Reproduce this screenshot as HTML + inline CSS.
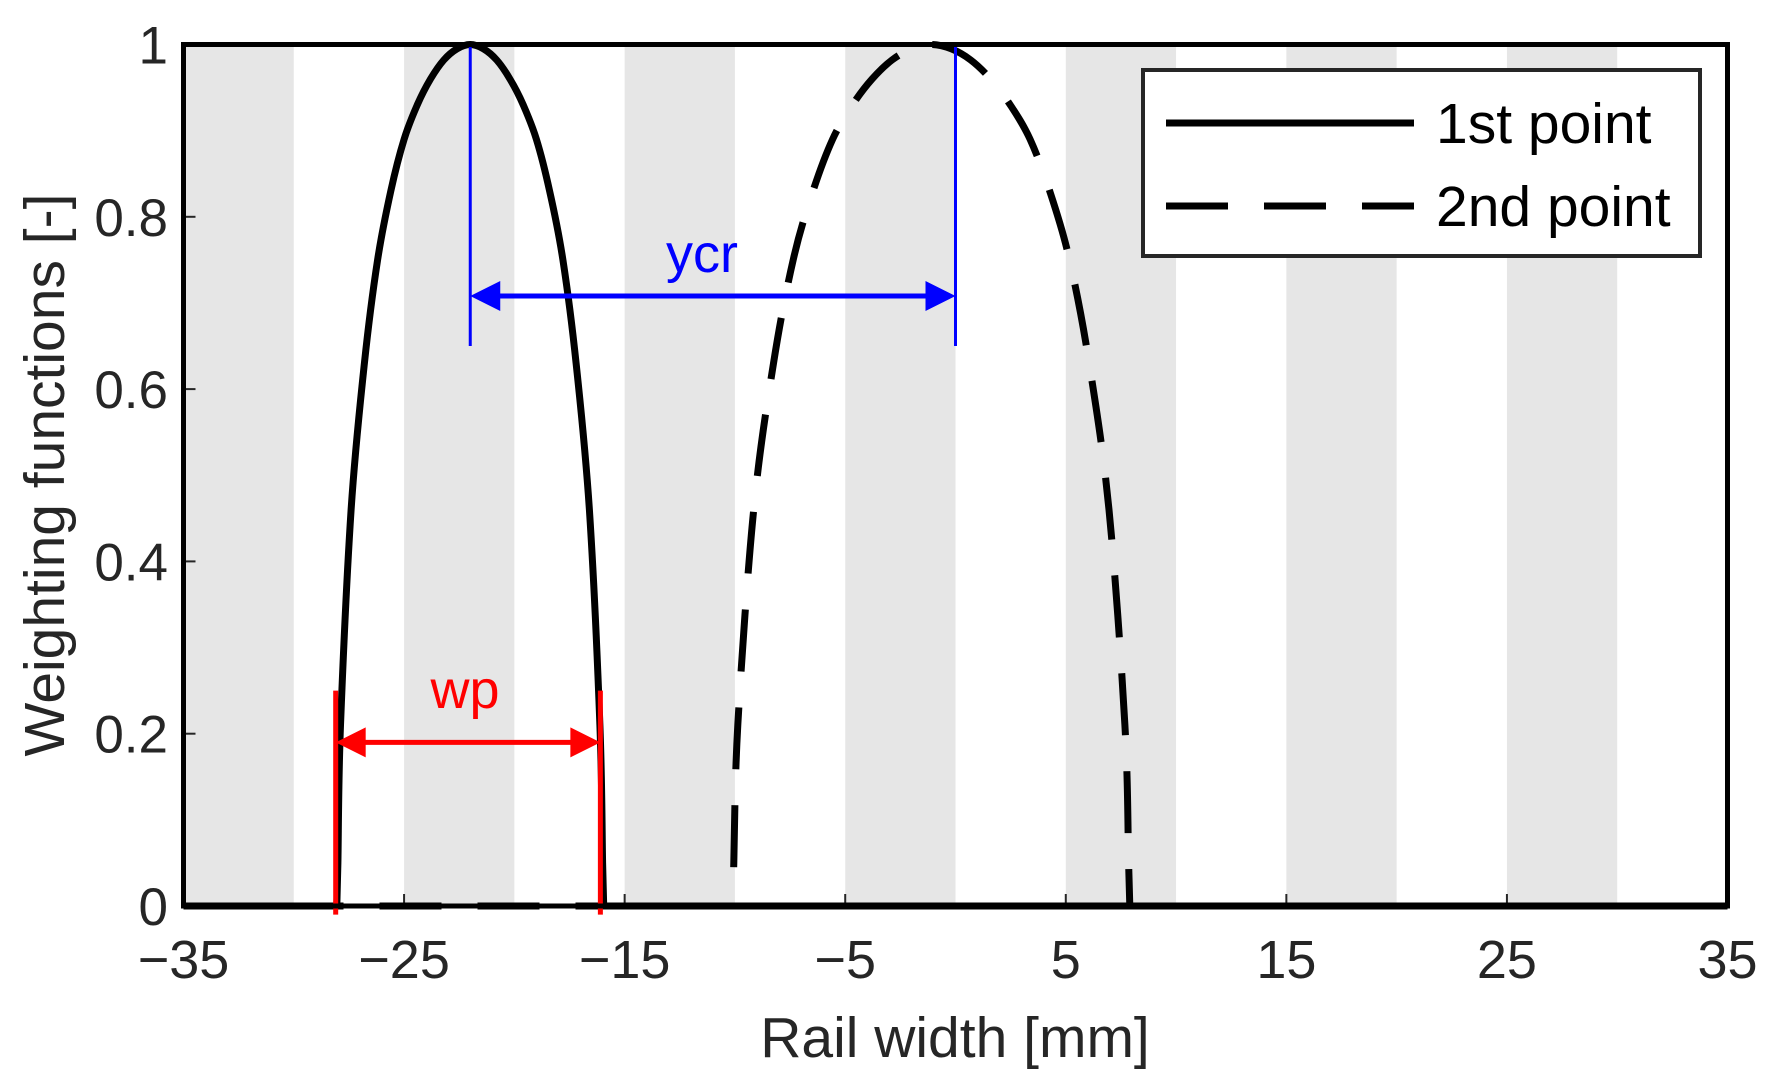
<!DOCTYPE html>
<html><head><meta charset="utf-8"><style>
html,body{margin:0;padding:0;background:#fff;}
svg{display:block;font-family:"Liberation Sans",Arial,sans-serif;}
</style></head><body>
<svg id="chart" width="1777" height="1080" viewBox="0 0 1777 1080" xmlns="http://www.w3.org/2000/svg">
<g id="bands"></g>
<g id="ticks"></g>
<g id="series"></g>
<g id="annot"></g>
<rect x="183.5" y="44.5" width="1544" height="861.5" fill="none" stroke="#000" stroke-width="5"/>
<g id="labels" fill="#262626"></g>
<text x="955" y="1057" font-size="57" text-anchor="middle" fill="#262626">Rail width [mm]</text>
<text transform="translate(64,475) rotate(-90)" font-size="57" text-anchor="middle" fill="#262626">Weighting functions [-]</text>
<g>
<rect x="1143" y="70" width="557" height="186" fill="#fff" stroke="#262626" stroke-width="4"/>
<line x1="1166" y1="123" x2="1414" y2="123" stroke="#000" stroke-width="7"/>
<text x="1436" y="143" font-size="57" fill="#000">1st point</text>
<line x1="1166" y1="206" x2="1414" y2="206" stroke="#000" stroke-width="7" stroke-dasharray="62,36"/>
<text x="1436" y="226" font-size="57" fill="#000">2nd point</text>
</g>
</svg>
<script>
const xTicks = [-35, -25, -15, -5, 5, 15, 25, 35];
const xTickLabels = ["\u221235", "\u221225", "\u221215", "\u22125", "5", "15", "25", "35"];
const yTicks = [0, 0.2, 0.4, 0.6, 0.8, 1];
const yTickLabels = ["0", "0.2", "0.4", "0.6", "0.8", "1"];
const bandStarts = [-35, -25, -15, -5, 5, 15, 25];
const bandWidth = 5;
const firstX = [-35, -28.05, -28, -27.88, -27.4, -26.8, -26.2, -25.6, -25, -24.4, -23.8, -23.2, -22.6, -22, -21.4, -20.8, -20.2, -19.6, -19, -18.4, -17.8, -17.2, -16.6, -16.12, -16, -15.95, 35];
const firstY = [0, 0, 0.05, 0.21, 0.46, 0.63, 0.75, 0.83, 0.89, 0.93, 0.96, 0.982, 0.995, 1, 0.995, 0.982, 0.96, 0.93, 0.89, 0.83, 0.75, 0.63, 0.46, 0.21, 0.05, 0, 0];
const secondX = [-35, -10.1, -10.05, -9.87, -9.15, -8.25, -7.36, -6.46, -5.57, -4.67, -3.78, -2.88, -1.99, -1.1, -0.2, 0.69, 1.59, 2.48, 3.38, 4.27, 5.17, 6.06, 6.96, 7.68, 7.85, 7.9, 35];
const secondY = [0, 0, 0.05, 0.21, 0.46, 0.63, 0.75, 0.83, 0.89, 0.93, 0.96, 0.982, 0.995, 1, 0.995, 0.982, 0.96, 0.93, 0.89, 0.83, 0.75, 0.63, 0.46, 0.21, 0.05, 0, 0];
const ycrStart = -22, ycrEnd = 0, ycrLevel = 0.708, ycrTop = 1, ycrBottom = 0.65;
const wpStart = -28.1, wpEnd = -16.1, wpLevel = 0.19, wpTop = 0.25, wpBottom = -0.01;

const NS = "http://www.w3.org/2000/svg";
const X0 = 183.5, X1 = 1727.5, Y0 = 906, Y1 = 44.5;
function sx(v){ return X0 + (v + 35) / 70 * (X1 - X0); }
function sy(v){ return Y0 - v * (Y0 - Y1); }
function mk(tag, attrs, parent){
  const e = document.createElementNS(NS, tag);
  for (const k in attrs) e.setAttribute(k, attrs[k]);
  parent.appendChild(e);
  return e;
}
const bands = document.getElementById('bands');
bandStarts.forEach(b => {
  const r = mk('rect', {x: sx(b), y: Y1, width: sx(b + bandWidth) - sx(b), height: Y0 - Y1, fill: '#e6e6e6'}, bands);
  
  
});
const ticks = document.getElementById('ticks');
const labels = document.getElementById('labels');
xTicks.forEach((t, i) => {
  const l = mk('line', {x1: sx(t), x2: sx(t), y1: Y0, y2: Y0 - 12, stroke: '#262626', 'stroke-width': 2}, ticks);
  
  
  const tx = mk('text', {x: sx(t), y: 978, 'font-size': 54, 'text-anchor': 'middle'}, labels);
  tx.textContent = xTickLabels[i];
  
  
});
yTicks.forEach((t, i) => {
  const l = mk('line', {x1: X0, x2: X0 + 12, y1: sy(t), y2: sy(t), stroke: '#262626', 'stroke-width': 2}, ticks);
  
  
  const tx = mk('text', {x: 168, y: sy(t) + 19, 'font-size': 53, 'text-anchor': 'end'}, labels);
  tx.textContent = yTickLabels[i];
  
  
});
const series = document.getElementById('series');
function smoothPath(xs, ys){
  const p = xs.map((x, i) => [sx(x), sy(ys[i])]);
  const n = p.length;
  let d = 'M' + p[0][0].toFixed(1) + ',' + p[0][1].toFixed(1);
  for (let i = 0; i < n - 1; i++) {
    const p0 = p[Math.max(0, i - 1)], p1 = p[i], p2 = p[i + 1], p3 = p[Math.min(n - 1, i + 2)];
    if (i <= 1 || i >= n - 3) {
      d += ' L' + p2[0].toFixed(1) + ',' + p2[1].toFixed(1);
      continue;
    }
    const k = 1 / 6;
    const c1 = [p1[0] + (p2[0] - p0[0]) * k, p1[1] + (p2[1] - p0[1]) * k];
    const c2 = [p2[0] - (p3[0] - p1[0]) * k, p2[1] - (p3[1] - p1[1]) * k];
    d += ' C' + c1.map(v => v.toFixed(1)).join(',') + ' ' + c2.map(v => v.toFixed(1)).join(',') + ' ' + p2[0].toFixed(1) + ',' + p2[1].toFixed(1);
  }
  return d;
}
const s1 = mk('path', {d: smoothPath(firstX, firstY), fill: 'none', stroke: '#000', 'stroke-width': 7, 'stroke-linejoin': 'round'}, series);


const s2 = mk('path', {d: smoothPath(secondX, secondY), fill: 'none', stroke: '#000', 'stroke-width': 7, 'stroke-dasharray': '62,36'}, series);



const annot = document.getElementById('annot');
function dim(a, b, lvl, top, bot, color, label, lx, ly, name, w){
  [a, b].forEach(v => {
    const l = mk('line', {x1: sx(v), x2: sx(v), y1: sy(top), y2: sy(bot), stroke: color, 'stroke-width': w}, annot);
    
    
  });
  const y = sy(lvl), xa = sx(a), xb = sx(b);
  const l = mk('line', {x1: xa + 25, x2: xb - 25, y1: y, y2: y, stroke: color, 'stroke-width': 5}, annot);
  
  
  const h1 = mk('polygon', {points: `${xa},${y} ${xa+30},${y-15} ${xa+30},${y+15}`, fill: color}, annot);
  
  
  const h2 = mk('polygon', {points: `${xb},${y} ${xb-30},${y-15} ${xb-30},${y+15}`, fill: color}, annot);
  
  
  const t = mk('text', {x: lx, y: ly, 'font-size': 54, 'text-anchor': 'middle', fill: color}, annot);
  t.textContent = label;
  
  
}
dim(ycrStart, ycrEnd, ycrLevel, ycrTop, ycrBottom, '#0000ff', 'ycr', 702, 272, 'ycr', 3);
dim(wpStart, wpEnd, wpLevel, wpTop, wpBottom, '#ff0000', 'wp', 465, 708, 'wp', 5);
</script>
</body></html>
